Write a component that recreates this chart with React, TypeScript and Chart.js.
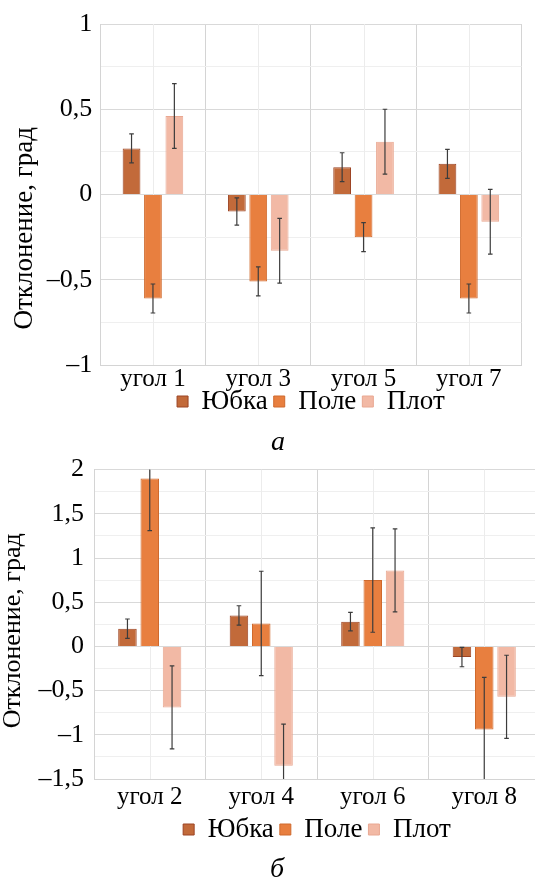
import React, { useEffect, useRef } from "react";
import { Chart, registerables } from "chart.js";

Chart.register(...registerables);

const FONT = '"Liberation Serif", "Times New Roman", serif';

const seriesNames = ["Юбка", "Поле", "Плот"];
const fillColors = ["#c26a3a", "#e87f3f", "#f2b9a5"];
const borderColors = ["#9c4424", "#cf6a2e", "#e9a892"];

// chart а
const categoriesA = ["угол 1", "угол 3", "угол 5", "угол 7"];
const yubkaA = [0.27, -0.1, 0.16, 0.18];
const poleA = [-0.61, -0.51, -0.25, -0.61];
const plotA = [0.46, -0.33, 0.31, -0.16];
const errYubkaA = [0.085, 0.08, 0.085, 0.085];
const errPoleA = [0.085, 0.085, 0.085, 0.085];
const errPlotA = [0.19, 0.19, 0.19, 0.19];
const yRangeA = [-1, 1];

// chart б
const categoriesB = ["угол 2", "угол 4", "угол 6", "угол 8"];
const yubkaB = [0.2, 0.35, 0.28, -0.12];
const poleB = [1.9, 0.26, 0.75, -0.94];
const plotB = [-0.69, -1.35, 0.86, -0.57];
const errYubkaB = [0.11, 0.11, 0.105, 0.11];
const errPoleB = [0.59, 0.59, 0.59, 0.59];
const errPlotB = [0.47, 0.47, 0.47, 0.47];
const yRangeB = [-1.5, 2];

const yTitle = "Отклонение, град";
const captionA = "а";
const captionB = "б";

function isMajor(v: number) {
  return Math.abs(v * 2 - Math.round(v * 2)) < 1e-6;
}
function fmt(v: number) {
  const r = Math.round(v * 100) / 100;
  const s = Math.abs(r).toString().replace(".", ",");
  return r < 0 ? "–" + s : s;
}

function errorPlugin(errors: number[][]) {
  return {
    id: "errbars",
    afterDatasetsDraw(chart: any) {
      const { ctx, chartArea, scales } = chart;
      const ys = scales.y;
      ctx.save();
      ctx.beginPath();
      ctx.rect(chartArea.left, chartArea.top, chartArea.right - chartArea.left, chartArea.bottom - chartArea.top);
      ctx.clip();
      ctx.strokeStyle = "#3c3c3c";
      ctx.lineWidth = 1.2;
      chart.data.datasets.forEach((ds: any, i: number) => {
        const meta = chart.getDatasetMeta(i);
        meta.data.forEach((el: any, j: number) => {
          const v = ds.data[j];
          const e = errors[i][j];
          const x = el.x;
          const y1 = ys.getPixelForValue(v + e);
          const y2 = ys.getPixelForValue(v - e);
          ctx.beginPath();
          ctx.moveTo(x, y1);
          ctx.lineTo(x, y2);
          ctx.moveTo(x - 2.3, y1);
          ctx.lineTo(x + 2.3, y1);
          ctx.moveTo(x - 2.3, y2);
          ctx.lineTo(x + 2.3, y2);
          ctx.stroke();
        });
      });
      ctx.restore();
    },
  };
}

const centerLinesPlugin = {
  id: "centerLines",
  beforeDatasetsDraw(chart: any) {
    const { ctx, chartArea, scales } = chart;
    const xs = scales.x;
    ctx.save();
    ctx.strokeStyle = "#ececec";
    ctx.lineWidth = 1;
    chart.data.labels.forEach((_: any, i: number) => {
      const px = Math.round(xs.getPixelForValue(i)) + 0.5;
      ctx.beginPath();
      ctx.moveTo(px, chartArea.top);
      ctx.lineTo(px, chartArea.bottom);
      ctx.stroke();
    });
    ctx.restore();
  },
};

function legendShiftPlugin(shift: number) {
  return {
    id: "legendShift",
    afterLayout(chart: any) {
      const lg = chart.legend;
      if (lg) {
        lg.top -= shift;
        lg.bottom -= shift;
      }
    },
  };
}

type Props = {
  categories: string[];
  series: number[][];
  errors: number[][];
  yRange: number[];
  width: number;
  height: number;
  top: number;
  padding: { left: number; top: number; right: number; bottom: number };
  yWidth: number;
  xHeight: number;
  xPad: number;
  yPad: number;
  titleSize: number;
  titlePadTop: number;
  titleSpaces: number;
  catPct: number;
  barPct: number;
  legendShift: number;
};

function BarChart(p: Props) {
  const ref = useRef<HTMLCanvasElement | null>(null);
  useEffect(() => {
    if (!ref.current) return;
    const chart = new Chart(ref.current, {
      type: "bar",
      data: {
        labels: p.categories,
        datasets: p.series.map((d, i) => ({
          label: seriesNames[i],
          data: d,
          backgroundColor: fillColors[i],
          borderColor: borderColors[i],
          borderWidth: 1,
          categoryPercentage: p.catPct,
          barPercentage: p.barPct,
        })),
      },
      options: {
        responsive: false,
        animation: false,
        devicePixelRatio: 1,
        layout: { padding: p.padding },
        scales: {
          x: {
            grid: { offset: true, color: "#d4d4d4", drawTicks: false },
            border: { color: "#d4d4d4" },
            ticks: { padding: p.xPad, color: "#000", font: { family: FONT, size: 25, lineHeight: 1 } },
            afterFit: (s: any) => {
              s.height = p.xHeight;
            },
          },
          y: {
            min: p.yRange[0],
            max: p.yRange[1],
            ticks: {
              stepSize: 0.25,
              autoSkip: false,
              padding: p.yPad,
              color: "#000",
              font: { family: FONT, size: 26 },
              callback: (v: any) => (isMajor(Number(v)) ? fmt(Number(v)) : ""),
            },
            grid: {
              drawTicks: false,
              color: (c: any) => (isMajor(c.tick.value) ? "#d9d9d9" : "#efefef"),
            },
            border: { color: "#d4d4d4" },
            title: {
              display: true,
              text: yTitle + " ".repeat(p.titleSpaces),
              color: "#000",
              font: { family: FONT, size: p.titleSize, lineHeight: 1 },
              padding: { top: p.titlePadTop, bottom: 0 },
            },
            afterFit: (s: any) => {
              s.width = p.yWidth;
            },
          },
        },
        plugins: {
          legend: {
            position: "bottom",
            fullSize: false,
            labels: {
              boxWidth: 11,
              boxHeight: 11,
              padding: 6,
              color: "#000",
              font: { family: FONT, size: 27 },
            },
          },
          tooltip: { enabled: false },
        },
      } as any,
      plugins: [centerLinesPlugin, errorPlugin(p.errors), legendShiftPlugin(p.legendShift)],
    });
    return () => {
      chart.destroy();
    };
  }, []);
  return (
    <canvas
      ref={ref}
      width={p.width}
      height={p.height}
      style={{ position: "absolute", left: 0, top: p.top, width: p.width, height: p.height }}
    />
  );
}

const captionStyle: React.CSSProperties = {
  position: "absolute",
  width: 100,
  textAlign: "center",
  fontFamily: FONT,
  fontStyle: "italic",
  fontSize: 28,
  lineHeight: "28px",
  color: "#000",
};

export default function App() {
  return (
    <div
      style={{
        position: "absolute",
        left: 0,
        top: 0,
        width: 535,
        height: 880,
        overflow: "hidden",
        background: "#fff",
        fontFamily: FONT,
      }}
    >
      <BarChart
        categories={categoriesA}
        series={[yubkaA, poleA, plotA]}
        errors={[errYubkaA, errPoleA, errPlotA]}
        yRange={yRangeA}
        width={535}
        height={436}
        top={0}
        padding={{ left: 8, top: 24, right: 13.5, bottom: 0 }}
        yWidth={92.3}
        xHeight={28}
        xPad={2}
        yPad={8}
        titleSize={27}
        titlePadTop={3}
        titleSpaces={10}
        catPct={0.61}
        barPct={0.83}
        legendShift={11}
      />
      <div style={{ ...captionStyle, left: 228, top: 427 }}>{captionA}</div>
      <BarChart
        categories={categoriesB}
        series={[yubkaB, poleB, plotB]}
        errors={[errYubkaB, errPoleB, errPlotB]}
        yRange={yRangeB}
        width={550}
        height={411}
        top={444}
        padding={{ left: 0, top: 20.3, right: 10, bottom: 0 }}
        yWidth={94}
        xHeight={33}
        xPad={6}
        yPad={10}
        titleSize={26}
        titlePadTop={0}
        titleSpaces={2}
        catPct={0.6}
        barPct={0.83}
        legendShift={2}
      />
      <div style={{ ...captionStyle, left: 227, top: 854 }}>{captionB}</div>
    </div>
  );
}
